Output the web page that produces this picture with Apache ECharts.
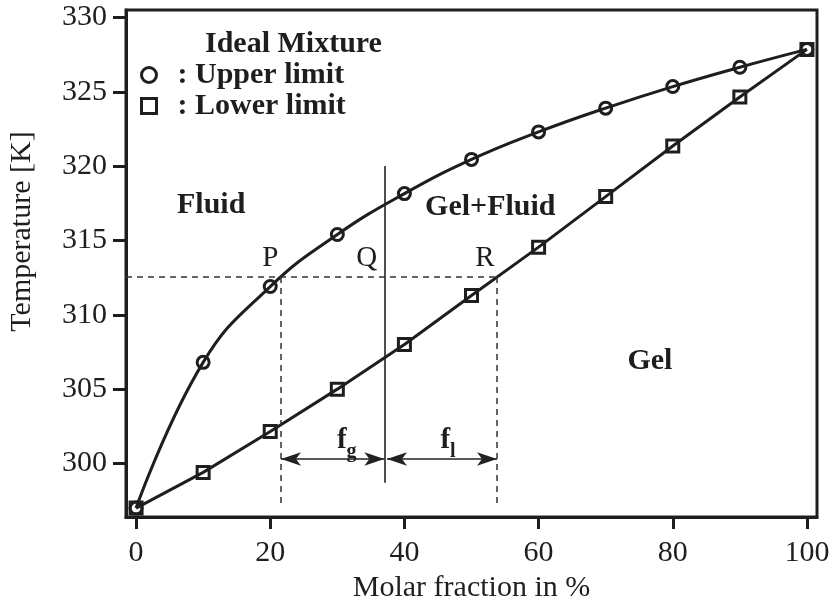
<!DOCTYPE html>
<html>
<head>
<meta charset="utf-8">
<script src="https://cdn.jsdelivr.net/npm/echarts@6/dist/echarts.min.js"></script>
<style>html,body{margin:0;padding:0;background:#fff}#c{width:832px;height:602px}</style>
</head>
<body>
<div id="c"></div>
<script>
// ---- data ----
const molarFraction = [0, 10, 20, 30, 40, 50, 60, 70, 80, 90, 100];
const upperLimit = [297.0, 306.8, 311.9, 315.4, 318.15, 320.45, 322.3, 323.9, 325.35, 326.65, 327.85];
const lowerLimit = [297.0, 299.4, 302.15, 305.0, 308.0, 311.3, 314.55, 317.95, 321.35, 324.65, 327.85];
const xTickValues = [0, 20, 40, 60, 80, 100];
const yTickValues = [300, 305, 310, 315, 320, 325, 330];

// tie line construction (data coordinates)
const tieLineT = 312.55;
const pointP = 21.6, pointQ = 37.1, pointR = 53.8;
const qLineRange = [298.7, 320.0];
const dashBottomT = 297.0;
const arrowT = 300.3;
const arrowGap = 0.3;

// annotation texts (data coordinates)
const regionNames = ['Fluid', 'Gel+Fluid', 'Gel'];
const regionX = [11.2, 52.8, 76.6];
const regionY = [317.4, 317.2, 306.9];
const pointNames = ['P', 'Q', 'R'];
const pointLabelX = [20.0, 34.4, 52.0];
const pointLabelY = [313.8, 313.8, 313.8];
const fracNames = ['g', 'l'];
const fracX = [31.4, 46.5];
const fracY = [301.3, 301.3];

const INK = '#1e1e1e';
const SERIF = '"Liberation Serif", "Times New Roman", serif';

const chart = echarts.init(document.getElementById('c'), null, {renderer: 'canvas'});

const upperData = molarFraction.map((x, i) => [x, upperLimit[i]]);
const lowerData = molarFraction.map((x, i) => [x, lowerLimit[i]]);

const dashStyle = {type: [6, 5], color: '#333', width: 1.5};
const solidThin = {type: 'solid', color: '#222', width: 1.6};

function seg(a, b, style, sym) {
  return [
    {coord: a, symbol: sym || 'none', lineStyle: style},
    {coord: b, symbol: sym || 'none'}
  ];
}

const option = {
  animation: false,
  backgroundColor: '#fff',
  title: {
    text: 'Ideal Mixture',
    left: 205, top: 29,
    padding: 0,
    textStyle: {fontFamily: SERIF, fontWeight: 'bold', fontSize: 30, color: INK, lineHeight: 30}
  },
  legend: {
    orient: 'vertical',
    left: 140, top: 60,
    padding: 0,
    itemGap: 1,
    itemWidth: 15, itemHeight: 15,
    selectedMode: false,
    data: [
      {name: 'Upper limit', icon: 'circle'},
      {name: 'Lower limit', icon: 'rect'}
    ],
    formatter: n => ': ' + n,
    itemStyle: {color: 'transparent', borderColor: INK, borderWidth: 3},
    textStyle: {fontFamily: SERIF, fontWeight: 'bold', fontSize: 30, color: INK, lineHeight: 26, padding: [0, 0, 0, 16]}
  },
  grid: {
    left: 126, right: 15, top: 10, bottom: 85,
    outerBoundsMode: 'none', containLabel: false,
    show: true, borderColor: INK, borderWidth: 3, backgroundColor: 'transparent'
  },
  xAxis: {
    type: 'value', min: -1.5, max: 101.5,
    name: 'Molar fraction in %',
    nameLocation: 'middle', nameGap: 55,
    nameTextStyle: {fontFamily: SERIF, fontSize: 30, color: INK},
    axisLine: {show: true, onZero: false, lineStyle: {color: INK, width: 3}},
    axisTick: {show: true, inside: false, length: 12, customValues: xTickValues, lineStyle: {color: INK, width: 3}},
    axisLabel: {customValues: xTickValues, margin: 21, fontFamily: SERIF, fontSize: 30, color: INK},
    splitLine: {show: false}
  },
  yAxis: {
    type: 'value', min: 296.4, max: 330.5,
    name: 'Temperature [K]',
    nameLocation: 'middle', nameGap: 89,
    nameTextStyle: {fontFamily: SERIF, fontSize: 30, color: INK, padding: [0, 0, 0, 64]},
    axisLine: {show: true, onZero: false, lineStyle: {color: INK, width: 3}},
    axisTick: {show: true, inside: false, length: 13, customValues: yTickValues, lineStyle: {color: INK, width: 3}},
    axisLabel: {customValues: yTickValues, margin: 19, fontFamily: SERIF, fontSize: 30, color: INK},
    splitLine: {show: false}
  },
  series: [
    {
      name: 'Upper limit', type: 'line', data: upperData,
      smooth: 0.45, symbol: 'circle', symbolSize: 12, showAllSymbol: true,
      lineStyle: {color: INK, width: 3},
      itemStyle: {color: 'transparent', borderColor: INK, borderWidth: 3},
      z: 3
    },
    {
      name: 'Lower limit', type: 'line', data: lowerData,
      smooth: false, symbol: 'rect', symbolSize: 12, showAllSymbol: true,
      lineStyle: {color: INK, width: 3},
      itemStyle: {color: 'transparent', borderColor: INK, borderWidth: 3},
      z: 3
    },
    {
      name: 'construction', type: 'line', data: [], silent: true,
      markLine: {
        silent: true, animation: false,
        symbolSize: [10, 20],
        label: {show: false},
        data: [
          seg([-1.5, tieLineT], [pointR, tieLineT], dashStyle),
          seg([pointP, tieLineT], [pointP, dashBottomT], dashStyle),
          seg([pointR, tieLineT], [pointR, dashBottomT], dashStyle),
          seg([pointQ, qLineRange[0]], [pointQ, qLineRange[1]], solidThin),
          [
            {coord: [pointP, arrowT], symbol: 'arrow', lineStyle: solidThin},
            {coord: [pointQ - arrowGap * 0.3, arrowT], symbol: 'arrow'}
          ],
          [
            {coord: [pointQ + arrowGap, arrowT], symbol: 'arrow', lineStyle: solidThin},
            {coord: [pointR, arrowT], symbol: 'arrow'}
          ]
        ]
      }
    },
    {
      name: 'regions', type: 'scatter', symbolSize: 0, silent: true,
      itemStyle: {opacity: 1},
      data: regionNames.map((n, i) => ({name: n, value: [regionX[i], regionY[i]]})),
      label: {show: true, position: 'inside', formatter: p => p.name,
        fontFamily: SERIF, fontWeight: 'bold', fontSize: 30, color: INK}
    },
    {
      name: 'points', type: 'scatter', symbolSize: 0, silent: true,
      itemStyle: {opacity: 1},
      data: pointNames.map((n, i) => ({name: n, value: [pointLabelX[i], pointLabelY[i]]})),
      label: {show: true, position: 'inside', formatter: p => p.name,
        fontFamily: SERIF, fontSize: 29, color: INK}
    },
    {
      name: 'fractions', type: 'scatter', symbolSize: 0, silent: true,
      itemStyle: {opacity: 1},
      data: fracNames.map((n, i) => ({name: n, value: [fracX[i], fracY[i]]})),
      label: {show: true, position: 'inside',
        formatter: p => '{f|f}{s|' + p.name + '}',
        rich: {
          f: {fontFamily: SERIF, fontWeight: 'bold', fontSize: 29, color: INK, verticalAlign: 'bottom', padding: [0, 0, 7, 0]},
          s: {fontFamily: SERIF, fontWeight: 'bold', fontSize: 20, color: INK, verticalAlign: 'bottom'}
        }
      }
    }
  ]
};
chart.setOption(option);
</script>
</body>
</html>
